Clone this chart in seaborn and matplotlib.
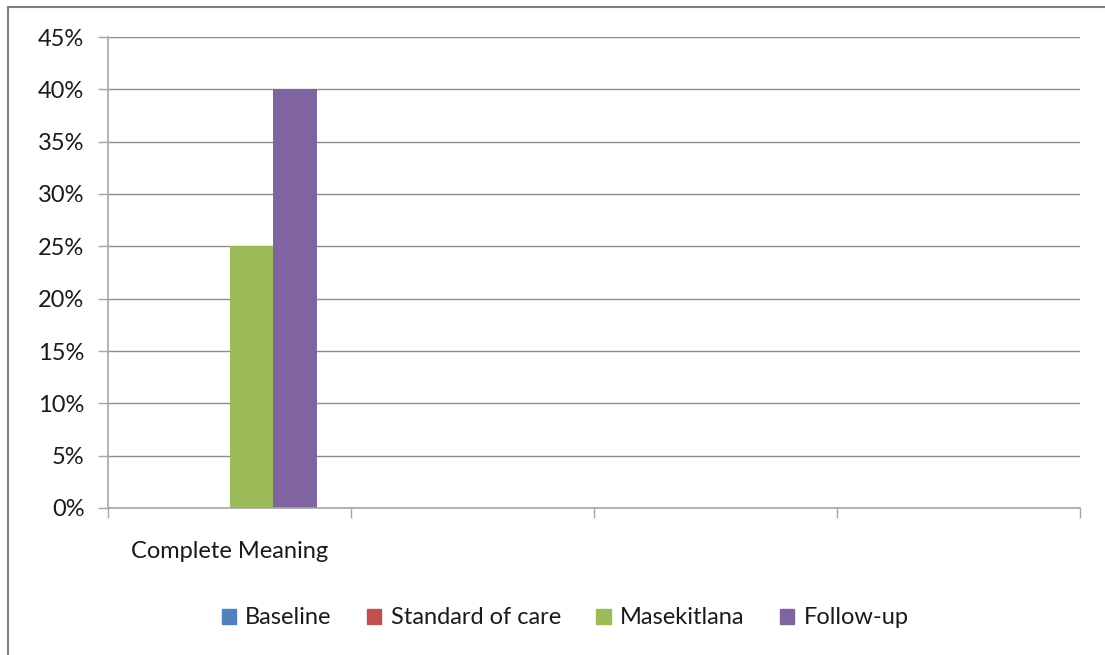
import pandas as pd
import matplotlib.pyplot as plt
import matplotlib.patches as mpatches
import seaborn as sns
from matplotlib.ticker import PercentFormatter

# Data
categories = ["Complete Meaning", " ", "  ", "   "]
series = ["Baseline", "Standard of care", "Masekitlana", "Follow-up"]
baseline = [0.0, 0.0, 0.0, 0.0]
standard_of_care = [0.0, 0.0, 0.0, 0.0]
masekitlana = [0.25, 0.0, 0.0, 0.0]
follow_up = [0.40, 0.0, 0.0, 0.0]
colors = ["#4F81BD", "#C0504D", "#9BBB59", "#8064A2"]
y_ticks = [0, 0.05, 0.10, 0.15, 0.20, 0.25, 0.30, 0.35, 0.40, 0.45]

sns.set_style("white")
plt.rcParams['font.family'] = ['Lato', 'DejaVu Sans']

df = pd.DataFrame({
    "category": categories * 4,
    "series": [s for s in series for _ in categories],
    "value": baseline + standard_of_care + masekitlana + follow_up,
})

fig = plt.figure(figsize=(11.05, 6.55), dpi=100)
ax = fig.add_axes([108 / 1105, 1 - 508 / 655, (1080 - 108) / 1105, (508 - 37) / 655])

sns.barplot(data=df, x="category", y="value", hue="series", order=categories,
            hue_order=series, palette=colors, width=0.72, linewidth=0,
            saturation=1, ax=ax, legend=False)

grid_c = "#8c8c8c"
axis_c = "#a6a6a6"
ax.set_ylim(0, 0.45)
ax.set_xlim(-0.5, len(categories) - 0.5)
ax.set_yticks(y_ticks)
ax.yaxis.set_major_formatter(PercentFormatter(1.0, decimals=0))
ax.yaxis.grid(True, color=grid_c, linewidth=1)
ax.set_axisbelow(True)
ax.set_xlabel("")
ax.set_ylabel("")

# category boundaries get the ticks, labels sit in the middle
ax.set_xticks([i - 0.5 for i in range(len(categories) + 1)])
ax.set_xticklabels([])
ax.set_xticks(range(len(categories)), minor=True)
ax.set_xticklabels(categories, minor=True)
ax.tick_params(axis="x", which="major", length=7, width=1, color=axis_c, direction="out", bottom=True)
ax.tick_params(axis="x", which="minor", length=0, pad=24, labelsize=17, labelcolor="#1a1a1a")
ax.tick_params(axis="y", length=7, width=1, color=axis_c, direction="out", left=True, pad=10,
               labelsize=17, labelcolor="#1a1a1a")

for side in ["top", "right"]:
    ax.spines[side].set_visible(False)
for side in ["left", "bottom"]:
    ax.spines[side].set_color(axis_c)
    ax.spines[side].set_linewidth(1.2)

# outer chart frame (runs off the right and bottom edges)
frame = mpatches.Rectangle((8 / 1105, -0.05), 1.1, 1 - 7 / 655 + 0.05, transform=fig.transFigure,
                           fill=False, edgecolor="#7f7f7f", linewidth=1.5)
fig.patches.append(frame)

handles = [mpatches.Patch(color=c, label=s) for s, c in zip(series, colors)]
leg = fig.legend(handles=handles, loc="center", bbox_to_anchor=(565 / 1105, 1 - 618 / 655), ncol=4,
                 frameon=False, fontsize=17, handlelength=0.6, handleheight=0.6,
                 handletextpad=0.4, columnspacing=1.5)
for t in leg.get_texts():
    t.set_color("#1a1a1a")

fig.savefig("out.png", dpi=100)
